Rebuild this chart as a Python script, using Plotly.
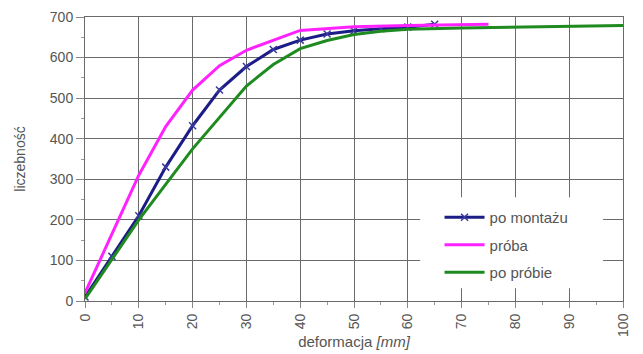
import plotly.graph_objects as go

# deformation [mm] and counts for each series
x_montaz = [0, 5, 10, 15, 20, 25, 30, 35, 40, 45, 50, 55, 60, 65]
y_montaz = [10, 110, 210, 330, 432, 520, 578, 620, 643, 658, 666, 671, 675, 682]

x_proba = [0, 5, 10, 15, 20, 25, 30, 40, 50, 60, 75]
y_proba = [20, 165, 310, 430, 520, 580, 618, 667, 676, 679, 682]

x_po_probie = [0, 10, 20, 30, 35, 40, 45, 50, 55, 60, 70, 80, 90, 100]
y_po_probie = [5, 200, 375, 530, 583, 622, 642, 657, 665, 670, 673, 675, 677, 679]

x_ticks = list(range(0, 101, 10))
y_ticks = list(range(0, 701, 100))

FONT = "Liberation Sans, Arial, sans-serif"
TEXT_GREY = "#555555"

fig = go.Figure()
fig.add_trace(go.Scatter(
    x=x_montaz, y=y_montaz, name="po montażu", mode="lines+markers",
    legendgroup="a",
    line=dict(color="#1c1c86", width=3),
    marker=dict(symbol="x-thin", size=7, line=dict(color="#3a3aa0", width=1.5)),
))
fig.add_trace(go.Scatter(
    x=x_proba, y=y_proba, name="próba", mode="lines",
    legendgroup="b",
    line=dict(color="#ff22ff", width=3),
))
fig.add_trace(go.Scatter(
    x=x_po_probie, y=y_po_probie, name="po próbie", mode="lines",
    legendgroup="c",
    line=dict(color="#1f8a1f", width=3),
))

# white panel behind the legend, hiding the grid there
fig.add_shape(
    type="rect", xref="paper", yref="paper",
    x0=0.623, x1=0.963, y0=0.045, y1=0.365,
    fillcolor="white", line=dict(width=0), layer="above",
)

fig.update_layout(
    width=643, height=354,
    margin=dict(l=85, r=20, t=17, b=53, autoexpand=False),
    paper_bgcolor="white", plot_bgcolor="white",
    font=dict(family=FONT, size=14, color=TEXT_GREY),
    showlegend=True,
    legend=dict(
        x=0.659, y=0.352, xanchor="left", yanchor="top",
        bgcolor="rgba(0,0,0,0)", borderwidth=0,
        font=dict(family=FONT, size=15, color=TEXT_GREY),
        tracegroupgap=5, itemwidth=40,
    ),
    xaxis=dict(
        range=[0, 100], tickvals=x_ticks, tickangle=-90,
        automargin=False,
        showgrid=True, gridcolor="#6a6a6a", gridwidth=1,
        showline=True, linecolor="#6a6a6a", mirror=True,
        ticks="outside", ticklen=6, tickcolor="#888888",
        minor=dict(dtick=5, ticks="outside", ticklen=3, tickcolor="#999999"),
        zeroline=False,
        title=dict(text="deformacja <i>[mm]</i>", standoff=0,
                   font=dict(family=FONT, size=15, color=TEXT_GREY)),
    ),
    yaxis=dict(
        range=[0, 700], tickvals=y_ticks,
        automargin=False,
        showgrid=True, gridcolor="#6a6a6a", gridwidth=1,
        showline=True, linecolor="#6a6a6a", mirror=True,
        ticks="outside", ticklen=8, tickcolor="#888888",
        minor=dict(dtick=50, ticks="outside", ticklen=3, tickcolor="#999999"),
        zeroline=False,
        title=dict(text="liczebność", standoff=20,
                   font=dict(family=FONT, size=14, color=TEXT_GREY)),
    ),
)

fig.write_html("out.html")
